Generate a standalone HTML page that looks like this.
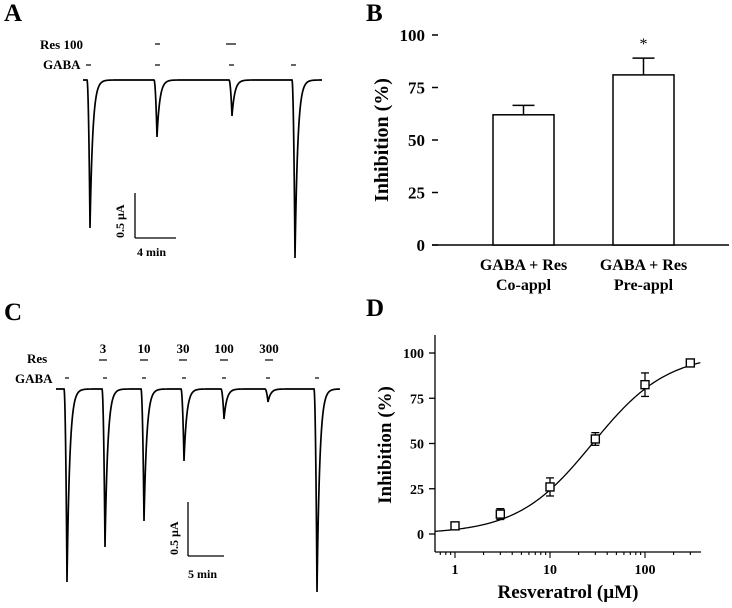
<!DOCTYPE html>
<html><head><meta charset="utf-8"><style>
html,body{margin:0;padding:0;background:#fff}
svg{display:block;font-family:"Liberation Serif",serif;font-weight:bold}
</style></head><body>
<svg id="fig" width="732" height="608" viewBox="0 0 732 608" xmlns="http://www.w3.org/2000/svg">
<g>
<text x="4" y="21" font-size="25">A</text>
<text x="40" y="49" font-size="13">Res 100</text>
<text x="43" y="69" font-size="13">GABA</text>
<g id="traceA"></g>
<line x1="135" y1="193" x2="135" y2="238" stroke="#000" stroke-width="1.3"/>
<line x1="135" y1="238" x2="176" y2="238" stroke="#000" stroke-width="1.3"/>
<text transform="translate(124,238) rotate(-90)" font-size="12">0.5 µA</text>
<text x="137" y="256" font-size="12">4 min</text>
</g>
<g>
<text x="4" y="320" font-size="25">C</text>
<text x="27" y="363" font-size="13">Res</text>
<text x="15" y="383" font-size="13">GABA</text>
<g id="traceC"></g>
<line x1="188" y1="502" x2="188" y2="556" stroke="#000" stroke-width="1.3"/>
<line x1="188" y1="556" x2="224" y2="556" stroke="#000" stroke-width="1.3"/>
<text transform="translate(178,555) rotate(-90)" font-size="12">0.5 µA</text>
<text x="188" y="578" font-size="12">5 min</text>
</g>
<g id="panelB">
<text x="366" y="21" font-size="25">B</text>
</g>
<g id="panelD">
<text x="366" y="316" font-size="25">D</text>
</g>
</svg>
<script>
const NS="http://www.w3.org/2000/svg";
// Panel A trace data (x position in px-time, peak depth in px)
const traceAPeaks=[90,157,232,295];
const traceADepths=[148,57,36,178];
const traceAResBars=[[155,160],[226,236]];
const traceAGaba=[86,155,229,291];
// Panel C
const traceCPeaks=[67,105,144,184,224,268,317];
const traceCDepths=[193,158,132,72,30,13,203];
const traceCResLabels=["3","10","30","100","300"];
const traceCResX=[103,144,183,224,269];
// Panel B
const barCategories=[["GABA + Res","Co-appl"],["GABA + Res","Pre-appl"]];
const barValues=[62,81];
const barErrors=[4.5,8];
const barTicks=[0,25,50,75,100];
// Panel D
const doseConc=[1,3,10,30,100,300];
const doseInhib=[4.5,11,26,52.5,82.5,94.5];
const doseErr=[1.2,3,5,3.5,6.5,1];
const doseYTicks=[0,25,50,75,100];
const doseXTicks=[1,10,100];
const fitIC50=28, fitHill=1.1;

function mk(tag,attrs,parent){const e=document.createElementNS(NS,tag);for(const k in attrs)e.setAttribute(k,attrs[k]);parent.appendChild(e);return e;}

function drawTrace(g,x0,x1,base,peaks,depths,tau){
  let d="M"+x0+","+base;
  for(let x=x0;x<=x1;x+=0.25){
    let y=0;
    peaks.forEach((p,i)=>{
      const A=depths[i];
      if(x>=p-3&&x<p){const t=(x-(p-3))/3;y+=A*t*t;}
      else if(x>=p){y+=A*Math.exp(-(x-p)/tau);}
    });
    d+=" L"+x.toFixed(2)+","+(base+y).toFixed(2);
  }
  const p=mk("path",{d:d,fill:"none",stroke:"#000","stroke-width":1.7},g);
  
  
}
const gA=document.getElementById("traceA");
drawTrace(gA,83,322,80,traceAPeaks,traceADepths,2.8);
traceAResBars.forEach(b=>{const l=mk("line",{x1:b[0],x2:b[1],y1:44,y2:44,stroke:"#000","stroke-width":1.2},gA);

});
traceAGaba.forEach(x=>{const l=mk("line",{x1:x,x2:x+5,y1:65,y2:65,stroke:"#000","stroke-width":1.2},gA);

});

const gC=document.getElementById("traceC");
drawTrace(gC,56,340,389,traceCPeaks,traceCDepths,2.8);
traceCPeaks.forEach(x=>{const l=mk("line",{x1:x-2,x2:x+2,y1:378,y2:378,stroke:"#000","stroke-width":1.2},gC);

});
traceCResLabels.forEach((s,i)=>{const x=traceCResX[i];
const t=mk("text",{x:x,y:353,"font-size":13,"text-anchor":"middle"},gC);t.textContent=s;


const l=mk("line",{x1:x-4,x2:x+4,y1:360,y2:360,stroke:"#000","stroke-width":1.2},gC);

});

// Panel B
const gB=document.getElementById("panelB");
const bY=v=>245-v*2.1;
const bX0=432,bX1=729,barW=61,barLeft=[493,613];
mk("line",{x1:bX0,x2:bX1,y1:245,y2:245,stroke:"#000","stroke-width":1.5},gB);
barTicks.forEach(v=>{mk("line",{x1:bX0,x2:bX0+6,y1:bY(v),y2:bY(v),stroke:"#000","stroke-width":1.5},gB);
const t=mk("text",{x:425,y:bY(v)+6,"font-size":17,"text-anchor":"end"},gB);t.textContent=v;

});
const yl=mk("text",{transform:"translate(388,140) rotate(-90)","font-size":20,"text-anchor":"middle"},gB);yl.textContent="Inhibition (%)";


barValues.forEach((v,i)=>{const x=barLeft[i],cx=x+barW/2;
const r=mk("rect",{x:x,y:bY(v),width:barW,height:245-bY(v),fill:"#fff",stroke:"#000","stroke-width":1.5},gB);


mk("line",{x1:cx,x2:cx,y1:bY(v),y2:bY(v+barErrors[i]),stroke:"#000","stroke-width":1.5},gB);
mk("line",{x1:cx-11,x2:cx+11,y1:bY(v+barErrors[i]),y2:bY(v+barErrors[i]),stroke:"#000","stroke-width":1.5},gB);
barCategories[i].forEach((s,j)=>{const t=mk("text",{x:cx,y:270+j*20,"font-size":16,"text-anchor":"middle"},gB);t.textContent=s;

});});
const st=mk("text",{x:barLeft[1]+barW/2,y:bY(barValues[1]+barErrors[1])-9,"font-size":16,"font-weight":"normal","text-anchor":"middle"},gB);st.textContent="*";



// Panel D
const gD=document.getElementById("panelD");
const dx=c=>455+Math.log10(c)*95;
const dy=v=>534-v*1.81;
mk("line",{x1:435,x2:435,y1:335,y2:552,stroke:"#000","stroke-width":1.3},gD);
mk("line",{x1:435,x2:701,y1:552,y2:552,stroke:"#000","stroke-width":1.3},gD);
doseYTicks.forEach(v=>{mk("line",{x1:429,x2:435,y1:dy(v),y2:dy(v),stroke:"#000","stroke-width":1.3},gD);
const t=mk("text",{x:424,y:dy(v)+5,"font-size":14,"text-anchor":"end"},gD);t.textContent=v;

});
for(let dec=-1;dec<=2;dec++)for(let m=1;m<10;m++){const c=m*Math.pow(10,dec);const x=dx(c);if(x<435||x>701)continue;
mk("line",{x1:x,x2:x,y1:552,y2:m===1?558:555,stroke:"#000","stroke-width":1.1},gD);}
doseXTicks.forEach(c=>{const t=mk("text",{x:dx(c),y:574,"font-size":14,"text-anchor":"middle"},gD);t.textContent=c;

});
const yd=mk("text",{transform:"translate(391,445) rotate(-90)","font-size":19,"text-anchor":"middle"},gD);yd.textContent="Inhibition (%)";


const xd=mk("text",{x:568,y:598,"font-size":19,"text-anchor":"middle"},gD);xd.textContent="Resveratrol (µM)";


let cd="";
for(let lx=Math.log10(0.62);lx<=Math.log10(390);lx+=0.01){const c=Math.pow(10,lx);const v=100/(1+Math.pow(fitIC50/c,fitHill));cd+=(cd?" L":"M")+dx(c).toFixed(2)+","+dy(v).toFixed(2);}
const fit=mk("path",{d:cd,fill:"none",stroke:"#000","stroke-width":1.3},gD);


doseConc.forEach((c,i)=>{const x=dx(c),v=doseInhib[i],e=doseErr[i];
mk("line",{x1:x,x2:x,y1:dy(v-e),y2:dy(v+e),stroke:"#000","stroke-width":1.3},gD);
[v-e,v+e].forEach(w=>mk("line",{x1:x-4,x2:x+4,y1:dy(w),y2:dy(w),stroke:"#000","stroke-width":1.3},gD));
const r=mk("rect",{x:x-4,y:dy(v)-4,width:8,height:8,fill:"#fff",stroke:"#000","stroke-width":1.4},gD);

});
</script>
</body></html>
